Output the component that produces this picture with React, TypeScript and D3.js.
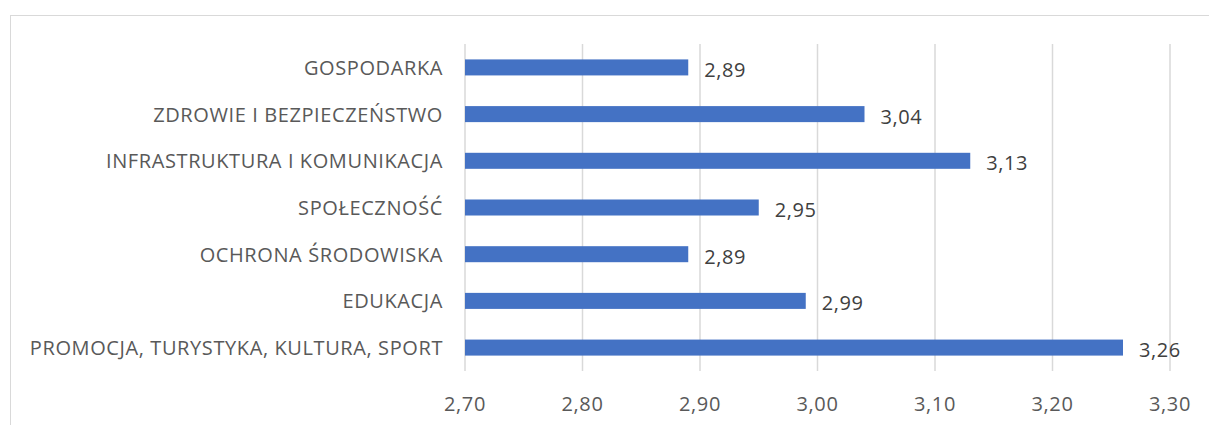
import React from "react"
import * as d3 from "d3"

const categories = [
    "GOSPODARKA",
    "ZDROWIE I BEZPIECZEŃSTWO",
    "INFRASTRUKTURA I KOMUNIKACJA",
    "SPOŁECZNOŚĆ",
    "OCHRONA ŚRODOWISKA",
    "EDUKACJA",
    "PROMOCJA, TURYSTYKA, KULTURA, SPORT",
];
const values = [2.89, 3.04, 3.13, 2.95, 2.89, 2.99, 3.26];
const ticks = [2.7, 2.8, 2.9, 3.0, 3.1, 3.2, 3.3];

const fmt = (v: number) => v.toFixed(2).replace(".", ",");

export default function App() {
    const width = 1209;
    const height = 425;
    const margin = { top: 44, right: 39, bottom: 54, left: 465 };
    const font = "'Open Sans', sans-serif";
    const textColor = "#595959";
    const fontSize = 20;
    const spacing = 0.6;

    const x = d3.scaleLinear()
        .domain([2.7, 3.3])
        .range([margin.left, width - margin.right]);

    const y = d3.scaleBand()
        .domain(categories)
        .range([margin.top, height - margin.bottom])
        .paddingInner(0.657)
        .paddingOuter(0.33);

    const data = categories.map((c, i) => ({ cat: c, value: values[i] }));

    return (
        <svg width={width} height={height} style={{ position: "absolute", left: 0, top: 0, background: "#fff" }}
             fontFamily={font}>
            {/* chart area border */}
            <rect x={10.5} y={15.5} width={width + 20} height={height + 20} fill="none" stroke="#d9d9d9" strokeWidth={1} />

            {/* gridlines */}
            <g>
                {ticks.map(t => (
                    <line key={t} x1={x(t)} x2={x(t)} y1={margin.top} y2={height - margin.bottom}
                          stroke="#d9d9d9" strokeWidth={1.5} />
                ))}
            </g>

            {/* bars */}
            <g>
                {data.map(d => (
                    <rect key={d.cat} x={x(2.7)} y={y(d.cat)} width={x(d.value) - x(2.7)}
                          height={y.bandwidth()} fill="#4472C4" />
                ))}
            </g>

            {/* value labels */}
            <g fontSize={fontSize} fill="#404040" letterSpacing={spacing}>
                {data.map(d => (
                    <text key={d.cat} x={x(d.value) + 16} y={(y(d.cat) ?? 0) + y.bandwidth() / 2 + 2}
                          dominantBaseline="central">{fmt(d.value)}</text>
                ))}
            </g>

            {/* category labels */}
            <g fontSize={fontSize} fill={textColor} textAnchor="end" letterSpacing={spacing}>
                {data.map(d => (
                    <text key={d.cat} x={margin.left - 22} y={(y(d.cat) ?? 0) + y.bandwidth() / 2}
                          dominantBaseline="central">{d.cat}</text>
                ))}
            </g>

            {/* x tick labels */}
            <g fontSize={fontSize} fill={textColor} textAnchor="middle" letterSpacing={spacing}>
                {ticks.map(t => (
                    <text key={t} x={x(t)} y={411}>{fmt(t)}</text>
                ))}
            </g>
        </svg>
    )
}
